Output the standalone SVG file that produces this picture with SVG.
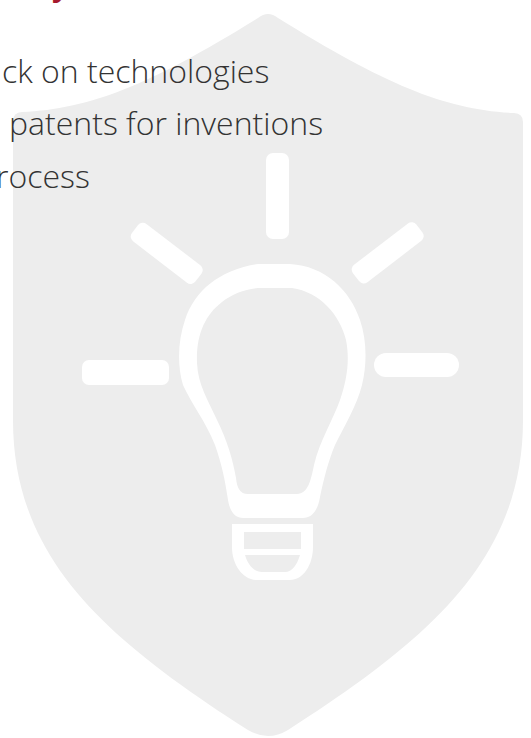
<svg xmlns="http://www.w3.org/2000/svg" width="531" height="738" viewBox="0 0 531 738">
  <style>
    .body { font-family: "Open Sans", "Noto Sans", "DejaVu Sans", sans-serif; font-weight: 300; font-size: 32px; fill: #333333; }
    .head { font-family: "Open Sans", "Noto Sans", "DejaVu Sans", sans-serif; font-weight: 700; font-size: 30px; fill: #a6192e; }
    .w { fill: #ffffff; }
  </style>
  <rect x="0" y="0" width="531" height="738" fill="#ffffff"/>
  <g id="shield">
    <path fill="#ededed" d="M22,112 C90,109 150,85 258,18 Q268,10 278,18 C386,85 446,110 514,113 Q523,113.5 523,122 L523,420 C523,560 428,640 288,730 Q268,742 248,730 C108,640 13,560 13,420 L13,121 Q13,112.5 22,112 Z"/>
  </g>
  <g id="rays">
    <rect class="w" x="266" y="153" width="23" height="86" rx="7"/>
    <rect class="w" x="126.7" y="242.3" width="80" height="22" rx="6" transform="rotate(37.5 166.7 253.3)"/>
    <rect class="w" x="347.7" y="241.8" width="80" height="22" rx="6" transform="rotate(-37.5 387.7 252.8)"/>
    <rect class="w" x="82" y="360" width="87" height="25" rx="7"/>
    <rect class="w" x="374" y="353" width="85" height="24" rx="12"/>
  </g>
  <g id="bulb">
    <path class="w" fill-rule="evenodd" d="M258,264 L290,264 C325,266 350,290 360,320 C367,340 367,365 362,385 C357,405 345,425 335,445 C328,462 324,478 320,497 C318,510 312,518 303,518 L243,518 C235,518 230,512 228,500 C225,480 222,465 215,445 C205,420 192,405 183,385 C177,365 178,340 185,320 C195,290 220,270 258,264 Z M258,288 L292,288 C320,292 340,315 346,340 C350,360 347,380 340,400 C333,420 320,440 314,465 C311,480 308,494 297,494 L248,494 C240,494 237,488 236,478 C233,460 227,440 217,420 C208,400 198,385 197,363 C196,335 205,315 222,302 C232,294 245,289 258,288 Z"/>
    <path class="w" fill-rule="evenodd" d="M232,524 H313 V547 C313,565 303,580 290,580 H257 C243,580 232,565 232,547 Z M244,532 H301 V549 H244 Z M245,555 H300 C297,565 292,572 285,572 H262 C254,572 248,565 245,555 Z"/>
  </g>
  <g id="text">
    <text class="head" x="52" y="-4">y</text>
    <text class="body" x="2" y="83">ck on technologies</text>
    <text class="body" x="9" y="135">patents for inventions</text>
    <text class="body" x="-4" y="188">rocess</text>
  </g>
</svg>
